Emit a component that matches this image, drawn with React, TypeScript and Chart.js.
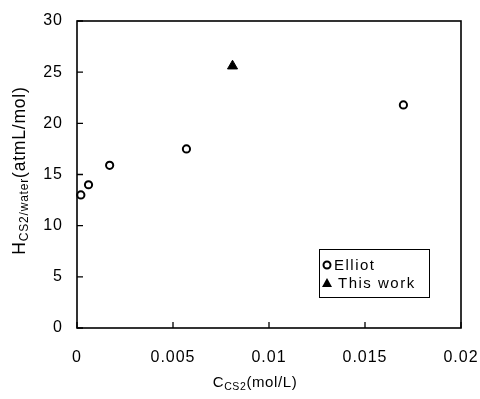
import React, { useEffect, useRef } from "react";
import { Chart, registerables } from "chart.js";

Chart.register(...registerables);

// ---- data ----
const elliotX = [0.0002, 0.0006, 0.0017, 0.0057, 0.017];
const elliotY = [13.0, 14.0, 15.9, 17.5, 21.8];
const thisWorkX = [0.0081];
const thisWorkY = [25.6];
const seriesNames = ["Elliot", "This work"];

const xTicks = [0, 0.005, 0.01, 0.015, 0.02];
const xTickLabels = ["0", "0.005", "0.01", "0.015", "0.02"];
const yTicks = [0, 5, 10, 15, 20, 25, 30];
const yTickLabels = ["0", "5", "10", "15", "20", "25", "30"];

const xTitleParts = ["C", "CS2", "(mol/L)"];
const yTitleParts = ["H", "CS2/water", "(atmL/mol)"];

const FONT = "'Liberation Sans', Arial, sans-serif";

function drawRich(
  ctx: CanvasRenderingContext2D,
  parts: string[],
  mainSize: number,
  subSize: number,
  spacing: string,
  cx: number,
  baseY: number
) {
  const fonts = [mainSize, subSize, mainSize];
  const dys = [0, 3, 0];
  (ctx as any).letterSpacing = spacing;
  const widths = parts.map((t, i) => {
    ctx.font = `${fonts[i]}px ${FONT}`;
    return ctx.measureText(t).width;
  });
  const total = widths.reduce((a, b) => a + b, 0);
  let x = cx - total / 2;
  ctx.textAlign = "left";
  ctx.textBaseline = "alphabetic";
  parts.forEach((t, i) => {
    ctx.font = `${fonts[i]}px ${FONT}`;
    ctx.fillText(t, x, baseY + dys[i]);
    x += widths[i];
  });
}

const decorPlugin = {
  id: "decor",
  beforeDraw(chart: any) {
    (chart.ctx as any).letterSpacing = "1px";
  },
  beforeDatasetsDraw(chart: any) {
    const { ctx, chartArea, scales } = chart;
    const { left, right, top, bottom } = chartArea;
    ctx.save();
    ctx.strokeStyle = "#000";
    ctx.lineWidth = 1.6;
    ctx.strokeRect(left, top, right - left, bottom - top);
    ctx.lineWidth = 1.3;
    ctx.beginPath();
    yTicks.forEach((v) => {
      const py = scales.y.getPixelForValue(v);
      ctx.moveTo(left, py);
      ctx.lineTo(left + 6, py);
    });
    xTicks.forEach((v) => {
      const px = scales.x.getPixelForValue(v);
      ctx.moveTo(px, bottom);
      ctx.lineTo(px, bottom - 6);
    });
    ctx.stroke();
    ctx.restore();
  },
  afterDraw(chart: any) {
    const { ctx, chartArea } = chart;
    const { left, right, top, bottom } = chartArea;
    ctx.save();
    ctx.fillStyle = "#000";
    // axis titles
    drawRich(ctx, xTitleParts, 15, 10.5, "0.6px", (left + right) / 2 - 14, 387);
    ctx.save();
    ctx.translate(25, (top + bottom) / 2 - 4);
    ctx.rotate(-Math.PI / 2);
    drawRich(ctx, yTitleParts, 17.5, 12, "0.8px", 0, 0);
    ctx.restore();

    // legend
    const lx = right - 142;
    const ly = bottom - 79;
    const lw = 110;
    const lh = 48;
    ctx.fillStyle = "#fff";
    ctx.fillRect(lx, ly, lw, lh);
    ctx.strokeStyle = "#000";
    ctx.lineWidth = 1;
    ctx.strokeRect(lx + 0.5, ly + 0.5, lw, lh);
    ctx.fillStyle = "#000";
    ctx.font = `15px ${FONT}`;
    (ctx as any).letterSpacing = "1.5px";
    ctx.textAlign = "left";
    ctx.textBaseline = "middle";
    const row1 = ly + 16;
    const row2 = ly + 34;
    // circle marker
    ctx.beginPath();
    ctx.lineWidth = 2;
    ctx.arc(lx + 8, row1, 3.5, 0, Math.PI * 2);
    ctx.stroke();
    ctx.fillText(seriesNames[0], lx + 15, row1 + 1);
    // triangle marker
    ctx.beginPath();
    ctx.moveTo(lx + 8, row2 - 5);
    ctx.lineTo(lx + 13, row2 + 4);
    ctx.lineTo(lx + 3, row2 + 4);
    ctx.closePath();
    ctx.fill();
    ctx.fillText(seriesNames[1], lx + 19, row2 + 1);
    ctx.restore();
  },
};

export default function App() {
  const ref = useRef<HTMLCanvasElement | null>(null);
  useEffect(() => {
    if (!ref.current) return;
    const chart = new Chart(ref.current, {
      type: "scatter",
      data: {
        datasets: [
          {
            label: seriesNames[0],
            data: elliotX.map((x, i) => ({ x, y: elliotY[i] })),
            pointStyle: "circle",
            pointRadius: 3.6,
            pointBorderWidth: 2,
            pointBackgroundColor: "#fff",
            pointBorderColor: "#000",
            clip: false as any,
          },
          {
            label: seriesNames[1],
            data: thisWorkX.map((x, i) => ({ x, y: thisWorkY[i] })),
            pointStyle: "triangle",
            pointRadius: 5.8,
            pointBorderWidth: 1,
            pointBackgroundColor: "#000",
            pointBorderColor: "#000",
            clip: false as any,
          },
        ],
      },
      options: {
        animation: false,
        responsive: false,
        devicePixelRatio: 1,
        layout: { padding: { top: 21, right: 19, left: 0, bottom: 0 } },
        plugins: {
          legend: { display: false },
          tooltip: { enabled: false },
        },
        scales: {
          x: {
            type: "linear",
            position: "bottom",
            min: 0,
            max: 0.02,
            grid: { display: false, drawTicks: false },
            border: { display: false },
            afterBuildTicks: (s: any) => {
              s.ticks = xTicks.map((v) => ({ value: v }));
            },
            afterFit: (s: any) => {
              s.height = 71;
              s.paddingLeft = 0;
              s.paddingRight = 0;
            },
            ticks: {
              autoSkip: false,
              maxRotation: 0,
              padding: 20,
              color: "#000",
              font: { family: FONT, size: 16 },
              callback: (_v: any, i: number) => xTickLabels[i],
            },
          },
          y: {
            type: "linear",
            min: 0,
            max: 30,
            grid: { display: false, drawTicks: false },
            border: { display: false },
            afterBuildTicks: (s: any) => {
              s.ticks = yTicks.map((v) => ({ value: v }));
            },
            afterFit: (s: any) => {
              s.width = 77;
              s.paddingTop = 0;
              s.paddingBottom = 0;
            },
            ticks: {
              padding: 14,
              color: "#000",
              font: { family: FONT, size: 16 },
              callback: (_v: any, i: number) => yTickLabels[i],
            },
          },
        },
      } as any,
      plugins: [decorPlugin],
    });
    return () => chart.destroy();
  }, []);
  return (
    <div style={{ position: "absolute", left: 0, top: 0, width: 480, height: 399, background: "#fff" }}>
      <canvas ref={ref} width={480} height={399} />
    </div>
  );
}
